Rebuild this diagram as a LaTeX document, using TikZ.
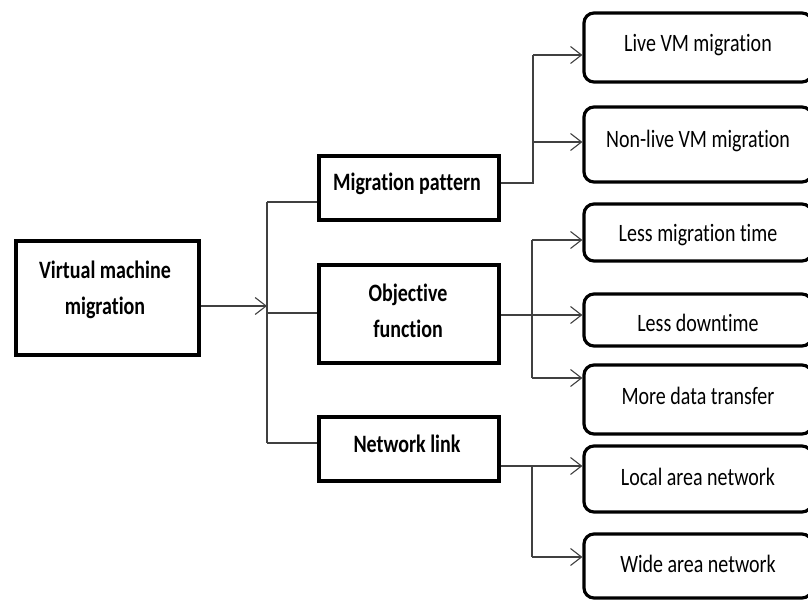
\documentclass[tikz,border=0pt]{standalone}
\usepackage{fontspec}
\setmainfont{Carlito}[FakeStretch=0.8, Ligatures=NoCommon]
\usetikzlibrary{arrows.meta}
\begin{document}
\begin{tikzpicture}[x=1pt,y=-1pt,
  box/.style={draw=black, line width=3.2pt, rectangle, inner sep=0pt},
  rbox/.style={box, rounded corners=10pt},
  lbl/.style={font=\fontsize{25}{36}\selectfont, inner sep=0pt, anchor=base},
  blbl/.style={inner sep=0pt, align=center, font=\fontsize{25}{36}\selectfont\bfseries},
  conn/.style={draw=black!75, line width=1.1pt},
  arr/.style={conn, -{Straight Barb[length=11pt,width=17pt,line width=1.1pt]}}]
\clip (0,0) rectangle (808,601);

% first level
\node[box, minimum width=183pt, minimum height=114pt] (root) at (107.5,298) {};
\node[blbl] (root-t) at (105,290) {Virtual machine\\migration};

% second level
\node[box, minimum width=180pt, minimum height=64pt] (mp) at (409,188) {};
\node[blbl, anchor=base] (mp-t) at (407,191) {Migration pattern};
\node[box, minimum width=180pt, minimum height=98pt] (of) at (409,314) {};
\node[blbl] (of-t) at (408,311) {Objective\\function};
\node[box, minimum width=180pt, minimum height=64pt] (nl) at (409,449) {};
\node[blbl, anchor=base] (nl-t) at (407,452) {Network link};

% third level
\node[rbox, minimum width=228pt, minimum height=69pt] (live) at (698,47.5) {};
\node[lbl] (live-t) at (698,52) {Live VM migration};
\node[rbox, minimum width=228pt, minimum height=75pt] (nonlive) at (698,144.5) {};
\node[lbl] (nonlive-t) at (698,148) {Non-live VM migration};
\node[rbox, minimum width=228pt, minimum height=57pt] (lmt) at (698,232.5) {};
\node[lbl] (lmt-t) at (698,242) {Less migration time};
\node[rbox, minimum width=228pt, minimum height=52pt] (ldt) at (698,320) {};
\node[lbl] (ldt-t) at (698,331) {Less downtime};
\node[rbox, minimum width=228pt, minimum height=69pt] (mdt) at (698,399.5) {};
\node[lbl] (mdt-t) at (698,404) {More data transfer};
\node[rbox, minimum width=228pt, minimum height=66pt] (lan) at (698,479) {};
\node[lbl] (lan-t) at (698,485) {Local area network};
\node[rbox, minimum width=228pt, minimum height=64pt] (wan) at (698,566) {};
\node[lbl] (wan-t) at (698,572) {Wide area network};

% trunk between first and second level
\coordinate (jL) at (267,306);
\coordinate (tTop) at (267,202);
\coordinate (tMid) at (267,313);
\coordinate (tBot) at (267,443);
\draw[arr] (root.east |- jL) -- (jL);
\draw[conn] (tTop) -- (tBot);
\draw[conn] (tTop) -- (mp.west |- tTop);
\draw[conn] (tMid) -- (of.west |- tMid);
\draw[conn] (tBot) -- (nl.west |- tBot);

% migration pattern branches
\coordinate (mpJ) at (533,183);
\coordinate (mpA) at (533,55);
\coordinate (mpB) at (533,142);
\draw[conn] (mp.east |- mpJ) -- (mpJ) -- (mpA);
\draw[arr] (mpA) -- (live.west |- mpA);
\draw[arr] (mpB) -- (nonlive.west |- mpB);

% objective function branches
\coordinate (ofA) at (532,240);
\coordinate (ofM) at (532,315);
\coordinate (ofB) at (532,378);
\draw[arr] (of.east |- ofM) -- (ldt.west |- ofM);
\draw[conn] (ofA) -- (ofB);
\draw[arr] (ofA) -- (lmt.west |- ofA);
\draw[arr] (ofB) -- (mdt.west |- ofB);

% network link branches
\coordinate (nlA) at (532,466);
\coordinate (nlB) at (532,557);
\draw[arr] (nl.east |- nlA) -- (lan.west |- nlA);
\draw[conn] (nlA) -- (nlB);
\draw[arr] (nlB) -- (wan.west |- nlB);
\end{tikzpicture}
\end{document}
